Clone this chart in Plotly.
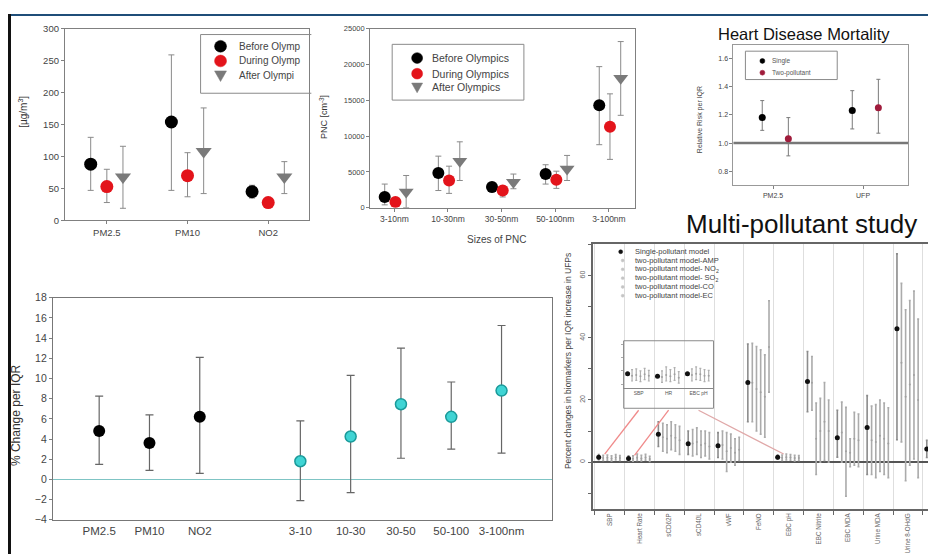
import numpy as np
import plotly.graph_objects as go

W, H = 936, 554
FONT = "Arial, Liberation Sans, sans-serif"

# ---------------- Panel A: pollutant concentrations ----------------
pollutants = ["PM2.5", "PM10", "NO2"]
periods = ["Before Olympics", "During Olympics", "After Olympics"]
conc_before = [88, 154, 45]
conc_before_lo = [47, 47, 35]
conc_before_hi = [130, 259, 55]
conc_during = [53, 70, 28]
conc_during_lo = [28, 37, 27]
conc_during_hi = [80, 106, 29]
conc_after = [68, 108, 68]
conc_after_lo = [19, 42, 42]
conc_after_hi = [116, 176, 92]
conc_ticks = [0, 50, 100, 150, 200, 250, 300]

# ---------------- Panel B: particle number concentration ----------------
pnc_sizes = ["3-10nm", "10-30nm", "30-50nm", "50-100nm", "3-100nm"]
pnc_before = [1500, 4840, 2900, 4700, 14300]
pnc_before_lo = [400, 2400, 2200, 3300, 8800]
pnc_before_hi = [3300, 7200, 3400, 6000, 19700]
pnc_during = [800, 3800, 2400, 3900, 11300]
pnc_during_lo = [200, 2000, 1500, 2700, 6750]
pnc_during_hi = [1300, 5800, 3000, 5100, 15900]
pnc_after = [2200, 6500, 3550, 5400, 18070]
pnc_after_lo = [0, 3800, 2650, 3800, 12900]
pnc_after_hi = [4500, 9200, 4700, 7300, 23200]
pnc_ticks = [0, 5000, 10000, 15000, 20000, 25000]

# ---------------- Panel C: heart disease mortality ----------------
hdm_cats = ["PM2.5", "UFP"]
hdm_models = ["Single", "Two-pollutant"]
rr_single = [1.18, 1.23]
rr_single_lo = [1.09, 1.10]
rr_single_hi = [1.30, 1.37]
rr_two = [1.03, 1.25]
rr_two_lo = [0.91, 1.07]
rr_two_hi = [1.18, 1.45]
rr_ticks = [0.8, 1.0, 1.2, 1.4, 1.6]

# ---------------- Panel D: % change per IQR ----------------
pc_pollutants = ["PM2.5", "PM10", "NO2"]
pc_pollutant_vals = [4.8, 3.6, 6.2]
pc_pollutant_lo = [1.5, 0.9, 0.6]
pc_pollutant_hi = [8.25, 6.4, 12.1]
pc_sizes = ["3-10", "10-30", "30-50", "50-100", "3-100nm"]
pc_size_vals = [1.8, 4.25, 7.45, 6.2, 8.8]
pc_size_lo = [-2.1, -1.3, 2.1, 3.0, 2.6]
pc_size_hi = [5.8, 10.3, 13.0, 9.65, 15.25]
pc_ticks = [-4, -2, 0, 2, 4, 6, 8, 10, 12, 14, 16, 18]

# ---------------- Panel E: multi-pollutant study ----------------
biomarkers = ["SBP", "Heart Rate", "sCD62P", "sCD40L", "vWF", "FeNO", "EBC pH",
              "EBC Nitrite", "EBC MDA", "Urine MDA", "Urine 8-OHdG", "SOD"]
model_names = ["Single-pollutant model", "two-pollutant model-AMP",
               "two-pollutant model- NO<sub>2</sub>", "two-pollutant model- SO<sub>2</sub>",
               "two-pollutant model-CO", "two-pollutant model-EC"]
single_val = [1.6, 1.2, 9.0, 5.9, 5.3, 25.6, 1.6, 25.9, 7.8, 11.1, 42.9, 4.2]
single_lo = [0.8, 0.4, 5.0, 2.5, 1.5, 13.0, 0.9, 16.2, 1.6, -4.0, 7.2, 1.5]
single_hi = [2.4, 2.0, 13.0, 10.0, 9.5, 38.0, 2.3, 35.6, 16.7, 21.4, 67.0, 7.0]
amp_val = [1.3, 1.1, 8.0, 6.0, 5.5, 25.5, 1.4, 25.5, 9.5, 7.0, 32.0, 4.0]
amp_lo = [0.5, 0.3, 3.5, 2.0, 1.0, 13.0, 0.5, 16.7, 0.0, -4.0, 6.5, 1.5]
amp_hi = [2.2, 2.0, 12.5, 10.5, 10.0, 38.2, 2.3, 34.0, 19.3, 18.0, 57.5, 6.5]
no2_val = [1.4, 1.4, 7.5, 6.5, 3.5, 23.5, 1.6, 7.5, 3.5, 6.5, 21.0, 4.2]
no2_lo = [0.6, 0.5, 3.0, 2.5, -3.0, 10.0, 0.7, -4.0, -11.0, -5.0, -6.0, 1.5]
no2_hi = [2.3, 2.6, 12.0, 11.0, 9.5, 37.2, 2.6, 19.0, 17.6, 18.5, 49.0, 7.0]
so2_val = [1.2, 1.2, 8.5, 5.5, 4.5, 22.5, 1.5, 10.0, 3.0, 8.5, 25.0, 3.8]
so2_lo = [0.4, 0.4, 4.0, 1.5, 0.0, 9.0, 0.6, 0.0, -1.5, -3.0, -1.0, 1.0]
so2_hi = [2.0, 2.2, 13.0, 10.0, 9.0, 36.1, 2.4, 20.5, 7.5, 20.0, 52.0, 6.5]
co_val = [1.5, 1.5, 7.8, 6.0, 3.0, 21.0, 1.3, 13.0, 7.5, 7.5, 28.0, 4.0]
co_lo = [0.7, 0.6, 3.5, 2.0, -1.0, 8.0, 0.4, 0.5, -1.0, -4.0, 1.0, 1.5]
co_hi = [2.4, 2.5, 12.0, 10.0, 7.5, 34.5, 2.2, 25.6, 16.0, 19.0, 55.0, 6.8]
ec_val = [1.3, 1.0, 7.0, 5.0, 4.0, 37.0, 1.3, 10.0, 7.0, 6.0, 20.0, 4.3]
ec_lo = [0.5, 0.2, 2.5, 1.0, 0.5, 22.5, 0.5, 0.0, -1.5, -5.0, -5.0, 1.8]
ec_hi = [2.1, 1.9, 11.5, 9.5, 8.0, 51.9, 2.1, 20.0, 15.5, 17.5, 46.0, 7.0]
mp_ticks = [0, 20, 40, 60]
inset_labels = ["SBP", "HR", "EBC pH"]
inset_index = [0, 1, 6]


def px_x(x):
    return x / W


def px_y(y):
    return 1 - y / H


def err(v, lo, hi, color, thick=1.0, width=3):
    v, lo, hi = np.array(v, float), np.array(lo, float), np.array(hi, float)
    return dict(type="data", symmetric=False, array=hi - v, arrayminus=v - lo,
                color=color, thickness=thick, width=width)


fig = go.Figure()

# domains (paper) and ranges
D = {
    1: dict(x=[px_x(57), px_x(302)], y=[px_y(211), px_y(15)], xr=[-0.52, 2.51], yr=[0, 300]),
    2: dict(x=[px_x(363), px_x(628)], y=[px_y(198), px_y(15)], xr=[-0.45, 4.48], yr=[0, 25000]),
    3: dict(x=[px_x(727), px_x(902)], y=[px_y(175), px_y(32)], xr=[-0.44, 1.5], yr=[0.703, 1.69]),
    4: dict(x=[px_x(45), px_x(545)], y=[px_y(517), px_y(290)], xr=[-0.92, 9.0], yr=[-4, 18]),
    5: dict(x=[px_x(586), 1.0], y=[px_y(506), px_y(235)], xr=[-0.57, 11.14], yr=[-15.1, 70.2]),
    6: dict(x=[px_x(617), px_x(707)], y=[px_y(382), px_y(334)], xr=[-0.5, 2.5], yr=[-0.5, 6.5]),
}

# ---- Panel A traces
xa = np.arange(len(pollutants))
for vals, lo, hi, off, sym, col, size in [
    (conc_before, conc_before_lo, conc_before_hi, -0.2, "circle", "#000000", 13),
    (conc_during, conc_during_lo, conc_during_hi, 0.0, "circle", "#e3141b", 13),
    (conc_after, conc_after_lo, conc_after_hi, 0.2, "triangle-down", "#7a7a7a", 14),
]:
    fig.add_trace(go.Scatter(x=xa + off, y=vals, mode="markers", xaxis="x", yaxis="y",
                             marker=dict(symbol=sym, color=col, size=size, line=dict(width=0)),
                             error_y=err(vals, lo, hi, "#8a8a8a", 1, 3), showlegend=False))

# ---- Panel B traces
xb = np.arange(len(pnc_sizes))
for vals, lo, hi, off, sym, col, size in [
    (pnc_before, pnc_before_lo, pnc_before_hi, -0.18, "circle", "#000000", 12),
    (pnc_during, pnc_during_lo, pnc_during_hi, 0.02, "circle", "#e3141b", 12),
    (pnc_after, pnc_after_lo, pnc_after_hi, 0.22, "triangle-down", "#7a7a7a", 13),
]:
    fig.add_trace(go.Scatter(x=xb + off, y=vals, mode="markers", xaxis="x2", yaxis="y2",
                             marker=dict(symbol=sym, color=col, size=size, line=dict(width=0)),
                             error_y=err(vals, lo, hi, "#8a8a8a", 1, 3), showlegend=False))

# ---- Panel C traces
xc = np.arange(len(hdm_cats))
for vals, lo, hi, off, col in [
    (rr_single, rr_single_lo, rr_single_hi, -0.12, "#000000"),
    (rr_two, rr_two_lo, rr_two_hi, 0.17, "#a01c3c"),
]:
    fig.add_trace(go.Scatter(x=xc + off, y=vals, mode="markers", xaxis="x3", yaxis="y3",
                             marker=dict(color=col, size=7),
                             error_y=err(vals, lo, hi, "#7a7a7a", 1, 2), showlegend=False))

# ---- Panel D traces
xd_p = np.arange(len(pc_pollutants))
xd_s = np.arange(len(pc_sizes)) + len(pc_pollutants) + 1
fig.add_trace(go.Scatter(x=xd_p, y=pc_pollutant_vals, mode="markers", xaxis="x4", yaxis="y4",
                         marker=dict(color="#000000", size=12),
                         error_y=err(pc_pollutant_vals, pc_pollutant_lo, pc_pollutant_hi, "#666666", 1.2, 4),
                         showlegend=False))
fig.add_trace(go.Scatter(x=xd_s, y=pc_size_vals, mode="markers", xaxis="x4", yaxis="y4",
                         marker=dict(color="#3fd4d4", size=11, line=dict(color="#1a9a9a", width=1.5)),
                         error_y=err(pc_size_vals, pc_size_lo, pc_size_hi, "#666666", 1.2, 4),
                         showlegend=False))

# ---- Panel E traces
xe = np.arange(len(biomarkers))
grey_models = [(amp_val, amp_lo, amp_hi), (no2_val, no2_lo, no2_hi), (so2_val, so2_lo, so2_hi),
               (co_val, co_lo, co_hi), (ec_val, ec_lo, ec_hi)]
grey_offsets = [-0.22, -0.08, 0.06, 0.2, 0.34]
single_offset = -0.37
for (vals, lo, hi), off in zip(grey_models, grey_offsets):
    fig.add_trace(go.Scatter(x=xe + off, y=vals, mode="markers", xaxis="x5", yaxis="y5",
                             marker=dict(color="#a0a0a0", size=2),
                             error_y=err(vals, lo, hi, "#ababab", 1.6, 1), showlegend=False))
fig.add_trace(go.Scatter(x=xe + single_offset, y=single_val, mode="markers", xaxis="x5", yaxis="y5",
                         marker=dict(color="#111111", size=5),
                         error_y=err(single_val, single_lo, single_hi, "#8c8c8c", 1.6, 1), showlegend=False))

# ---- Inset traces
xi = np.arange(len(inset_labels))
for (vals, lo, hi), off in zip(grey_models, grey_offsets):
    v = [vals[i] for i in inset_index]
    l = [lo[i] for i in inset_index]
    h = [hi[i] for i in inset_index]
    fig.add_trace(go.Scatter(x=xi + off, y=v, mode="markers", xaxis="x6", yaxis="y6",
                             marker=dict(color="#a0a0a0", size=2),
                             error_y=err(v, l, h, "#b0b0b0", 1.2, 1), showlegend=False))
sv = [single_val[i] for i in inset_index]
fig.add_trace(go.Scatter(x=xi + single_offset, y=sv, mode="markers", xaxis="x6", yaxis="y6",
                         marker=dict(color="#111111", size=5), showlegend=False))

# ---------------- axes ----------------
tick_font = dict(family=FONT, color="#444444")


def ax(n, **kw):
    base = dict(domain=D[n]["x"] if kw.pop("is_x") else D[n]["y"], showgrid=False, zeroline=False,
                showline=True, mirror=True, linecolor="#808080", linewidth=1, ticks="outside",
                tickcolor="#808080", ticklen=3)
    base.update(kw)
    return base


layout = dict(width=W, height=H, autosize=False, margin=dict(l=0, r=0, t=0, b=0, pad=0),
              paper_bgcolor="white", plot_bgcolor="rgba(0,0,0,0)", showlegend=False,
              font=dict(family=FONT, color="#333333"))

layout["xaxis"] = ax(1, is_x=True, anchor="y", range=D[1]["xr"], tickvals=list(xa), ticktext=pollutants,
                     tickfont=dict(size=9.5, **tick_font))
layout["yaxis"] = ax(1, is_x=False, anchor="x", range=D[1]["yr"], tickvals=conc_ticks,
                     tickfont=dict(size=9.5, **tick_font))
layout["xaxis2"] = ax(2, is_x=True, anchor="y2", range=D[2]["xr"], tickvals=list(xb), ticktext=pnc_sizes,
                      tickfont=dict(size=8.5, **tick_font))
layout["yaxis2"] = ax(2, is_x=False, anchor="x2", range=D[2]["yr"], tickvals=pnc_ticks, tickformat="d",
                      tickfont=dict(size=7.5, **tick_font))
layout["xaxis3"] = ax(3, is_x=True, anchor="y3", range=D[3]["xr"], tickvals=list(xc), ticktext=hdm_cats,
                      tickfont=dict(size=7, **tick_font), linecolor="#999999")
layout["yaxis3"] = ax(3, is_x=False, anchor="x3", range=D[3]["yr"], tickvals=rr_ticks, tickformat=".1f",
                      tickfont=dict(size=7, **tick_font), linecolor="#999999")
layout["xaxis4"] = ax(4, is_x=True, anchor="y4", range=D[4]["xr"],
                      tickvals=list(xd_p) + list(xd_s), ticktext=pc_pollutants + pc_sizes,
                      ticks="", tickfont=dict(size=11.5, **tick_font), linecolor="#777777")
layout["yaxis4"] = ax(4, is_x=False, anchor="x4", range=D[4]["yr"], tickvals=pc_ticks,
                      tickfont=dict(size=10.5, **tick_font), linecolor="#777777",
                      zeroline=True, zerolinecolor="#7fc4c4", zerolinewidth=1)
layout["xaxis5"] = ax(5, is_x=True, anchor="y5", range=D[5]["xr"], tickvals=list(xe), ticktext=biomarkers,
                      ticks="", tickangle=-90, tickfont=dict(size=6.3, family=FONT, color="#666666"),
                      linecolor="#666666", linewidth=1.5,
                      minor=dict(tickvals=[k + 0.5 for k in range(-1, len(biomarkers))], ticks="outside",
                                 ticklen=4, tickcolor="#666666", showgrid=True, gridcolor="#dedede",
                                 gridwidth=1))
layout["yaxis5"] = ax(5, is_x=False, anchor="x5", range=D[5]["yr"], tickvals=mp_ticks, tickangle=-90,
                      tickfont=dict(size=7, family=FONT, color="#666666"), linecolor="#666666",
                      linewidth=1.5, tickcolor="#666666",
                      minor=dict(dtick=10, tick0=0, ticks="outside", ticklen=3, tickcolor="#666666"),
                      zeroline=True, zerolinecolor="#555555", zerolinewidth=2)
layout["xaxis6"] = dict(domain=D[6]["x"], anchor="y6", range=D[6]["xr"], tickvals=list(xi),
                        ticktext=inset_labels, showgrid=False, zeroline=False, showline=True,
                        linecolor="#888888", ticks="", tickfont=dict(size=5, family=FONT, color="#555555"))
layout["yaxis6"] = dict(domain=D[6]["y"], anchor="x6", range=D[6]["yr"], showgrid=False, zeroline=False,
                        showline=True, linecolor="#aaaaaa", ticks="outside", ticklen=2, tickcolor="#aaaaaa",
                        showticklabels=False, dtick=2)
fig.update_layout(**layout)

# ---------------- decorations ----------------
shapes = []
annos = []


def circle(cx, cy, d, fill, line=None):
    shapes.append(dict(type="circle", xref="paper", yref="paper", x0=px_x(cx - d / 2), x1=px_x(cx + d / 2),
                       y0=px_y(cy + d / 2), y1=px_y(cy - d / 2), fillcolor=fill,
                       line=dict(color=line or fill, width=0.5), layer="above"))


def tri_down(cx, cy, d, fill):
    p = "M {:.5f},{:.5f} L {:.5f},{:.5f} L {:.5f},{:.5f} Z".format(
        px_x(cx - d / 2), px_y(cy - d * 0.4), px_x(cx + d / 2), px_y(cy - d * 0.4), px_x(cx), px_y(cy + d * 0.5))
    shapes.append(dict(type="path", xref="paper", yref="paper", path=p, fillcolor=fill,
                       line=dict(color=fill, width=0.5), layer="above"))


def text(x, y, s, size, color="#333333", anchor="left", angle=0, yanchor="middle"):
    annos.append(dict(x=px_x(x), y=px_y(y), xref="paper", yref="paper", text=s, showarrow=False,
                      xanchor=anchor, yanchor=yanchor, textangle=angle,
                      font=dict(family=FONT, size=size, color=color)))


def line(x0, y0, x1, y1, color, width=1):
    shapes.append(dict(type="line", xref="paper", yref="paper", x0=x0, y0=y0, x1=x1, y1=y1,
                       line=dict(color=color, width=width), layer="above"))


# page frame
shapes.append(dict(type="rect", xref="paper", yref="paper", x0=0, x1=1, y0=px_y(2), y1=1,
                   fillcolor="#1f4e79", line=dict(width=0), layer="above"))
shapes.append(dict(type="rect", xref="paper", yref="paper", x0=0, x1=px_x(3), y0=0, y1=1,
                   fillcolor="#111111", line=dict(width=0), layer="above"))

# Panel A legend (clipped box)
shapes.append(dict(type="path", xref="paper", yref="paper",
                   path="M {a},{t} L {l},{t} L {l},{b} L {a},{b}".format(
                       a=px_x(304), l=px_x(193), t=px_y(21), b=px_y(81)),
                   line=dict(color="#8a8a8a", width=1), layer="above"))
for i, (row, name) in enumerate(zip([33, 48, 63], periods)):
    if i == 0:
        circle(213, row, 12, "#000000")
    elif i == 1:
        circle(213, row, 12, "#e3141b")
    else:
        tri_down(213, row, 12, "#7a7a7a")
    text(229, row, name[:12], 10, "#444444")

# Panel B legend
shapes.append(dict(type="rect", xref="paper", yref="paper", x0=px_x(385), x1=px_x(517), y0=px_y(88),
                   y1=px_y(31), line=dict(color="#8a8a8a", width=1), layer="above"))
for i, (row, name) in enumerate(zip([45, 61, 75], periods)):
    if i == 0:
        circle(410, row, 11, "#000000")
    elif i == 1:
        circle(410, row, 11, "#e3141b")
    else:
        tri_down(410, row, 11, "#7a7a7a")
    text(423, row, name, 10.5, "#444444")

# Panel C legend
shapes.append(dict(type="rect", xref="paper", yref="paper", x0=px_x(739), x1=px_x(831), y0=px_y(67),
                   y1=px_y(38), line=dict(color="#8a8a8a", width=1), layer="above"))
for row, name, col in zip([48, 60], hdm_models, ["#000000", "#a01c3c"]):
    circle(756, row, 5, col)
    text(764, row, name, 6.5, "#555555")

# Panel C reference line at RR = 1
shapes.append(dict(type="line", xref="x3 domain", yref="y3", x0=0, x1=1, y0=1, y1=1,
                   line=dict(color="#777777", width=2.5), layer="below"))

# Panel E legend
for i, (row, name) in enumerate(zip([243, 252, 261, 270, 279, 288], model_names)):
    if i == 0:
        circle(614, row, 4, "#111111")
    else:
        circle(616, row, 3, "#c4c4c4")
    text(626, row, name, 7.5, "#444444")

# inset frame
shapes.append(dict(type="rect", xref="paper", yref="paper", x0=px_x(617), x1=px_x(707), y0=px_y(403),
                   y1=px_y(334), line=dict(color="#8a8a8a", width=1), layer="above"))


def to_paper(v, dom, rng):
    return dom[0] + (v - rng[0]) / (rng[1] - rng[0]) * (dom[1] - dom[0])


# connector lines from inset labels to the single-pollutant points in the main panel
for k, idx in enumerate(inset_index):
    xs = to_paper(k, D[6]["x"], D[6]["xr"])
    xt = to_paper(idx + single_offset + 0.2, D[5]["x"], D[5]["xr"])
    yt = to_paper(single_val[idx] + 1, D[5]["y"], D[5]["yr"])
    line(xs, px_y(405), xt, yt, "#f08a8a" if k < 2 else "#e0a8a8", 1.3)

# titles
text(798, 20, "Heart Disease Mortality", 16.5, "#111111", anchor="center")
text(795, 215, "Multi-pollutant study", 26, "#111111", anchor="center")
text(15, 100, "[µg/m<sup>3</sup>]", 10, "#333333", anchor="center", angle=-90)
text(316, 105, "PNC [cm<sup>-3</sup>]", 9, "#333333", anchor="center", angle=-90)
text(490, 231, "Sizes of PNC", 10, "#444444", anchor="center")
text(693, 108, "Relative Risk per IQR", 7, "#444444", anchor="center", angle=-90)
text(8, 410, "% Change per IQR", 12, "#333333", anchor="center", angle=-90)
text(562, 355, "Percent changes in biomarkers per IQR increase in UFPs", 8.5, "#444444",
     anchor="center", angle=-90)

fig.update_layout(shapes=shapes, annotations=annos)
fig.write_html("out.html")
